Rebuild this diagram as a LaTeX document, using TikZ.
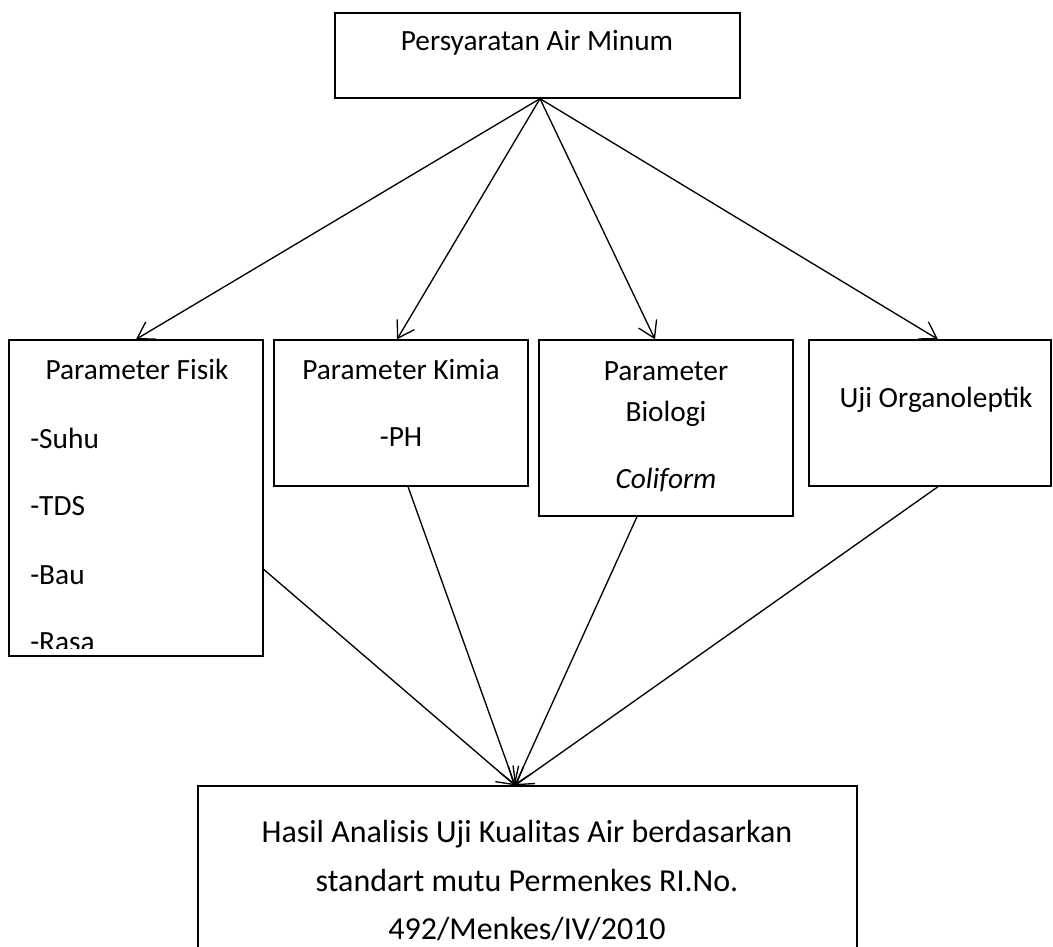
\documentclass[tikz,border=0pt]{standalone}
\usepackage{fontspec}
\setmainfont{Carlito}
\usetikzlibrary{arrows.meta,calc}

\begin{document}
\begin{tikzpicture}[x=0.75pt,y=-0.75pt,
        box/.style={draw,line width=1pt,inner sep=0pt},
        txt/.style={inner sep=0pt,font=\fontsize{22}{26}\selectfont},
        bigtxt/.style={inner sep=0pt,font=\fontsize{24}{28}\selectfont},
        arr/.style={line width=1pt,-{Straight Barb[length=12pt,width=15pt]}}]
                \useasboundingbox (0,0) rectangle (1053,946);
                \clip (0,0) rectangle (1053,946);

                \node[box,minimum width=303.75pt,minimum height=63.75pt] (b_top) at (537.5,55.5) {};
                \node[box,minimum width=190.5pt,minimum height=237pt] (b_fisik) at (136,498) {};
                \node[box,minimum width=190.5pt,minimum height=109.5pt] (b_kimia) at (401,413) {};
                \node[box,minimum width=190.5pt,minimum height=132pt] (b_biologi) at (666,428) {};
                \node[box,minimum width=181.5pt,minimum height=109.5pt] (b_organo) at (930,413) {};
                \node[box,minimum width=494.25pt,minimum height=145.5pt] (b_hasil) at (527.5,883) {};

                \node[txt] (t_top) at (537,43) {Persyaratan Air Minum};

                \node[txt] (t_fisik) at (137,369) {Parameter Fisik};
                \node[txt,anchor=west] (t_suhu) at (30,438) {-Suhu};
                \node[txt,anchor=west] (t_tds) at (30,506) {-TDS};
                \node[txt,anchor=west] (t_bau) at (30,575) {-Bau};
                \begin{scope}
                    \clip (0,340) rectangle (263,648);
                    \node[txt,anchor=west] (t_rasa) at (30,642) {-Rasa};
                \end{scope}

                \node[txt] (t_kimia) at (401,370) {Parameter Kimia};
                \node[txt] (t_ph) at (401,437) {-PH};

                \node[txt] (t_bio_a) at (666,371) {Parameter};
                \node[txt] (t_bio_b) at (666,414) {Biologi};
                \node[txt] (t_coli) at (666,480) {\textit{Coliform}};

                \node[txt] (t_organo) at (936,400) {Uji Organoleptik};

                \node[bigtxt] (t_hasil_a) at (527,834) {Hasil Analisis Uji Kualitas Air berdasarkan};
                \node[bigtxt] (t_hasil_b) at (527,881) {standart mutu Permenkes RI.No.};
                \node[bigtxt] (t_hasil_c) at (527,929) {492/Menkes/IV/2010};

                % top box down to the four parameter boxes
                \coordinate (apex) at ($(b_top.south)+(2.5,0)$);
                \draw[arr] (apex) -- (b_fisik.north);
                \draw[arr] (apex) -- ($(b_kimia.north)+(-4,0)$);
                \draw[arr] (apex) -- ($(b_biologi.north)+(-11,0)$);
                \draw[arr] (apex) -- ($(b_organo.north)+(8,0)$);

                % parameter boxes down to the result
                \coordinate (sink) at ($(b_hasil.north)+(-12.5,0)$);
                \draw[arr] ($(b_fisik.north east)+(0,230)$) -- (sink);
                \draw[arr] ($(b_kimia.south)+(7,0)$) -- (sink);
                \draw[arr] ($(b_biologi.south)+(-29,0)$) -- (sink);
                \draw[arr] ($(b_organo.south)+(8,0)$) -- (sink);
\end{tikzpicture}
\end{document}
